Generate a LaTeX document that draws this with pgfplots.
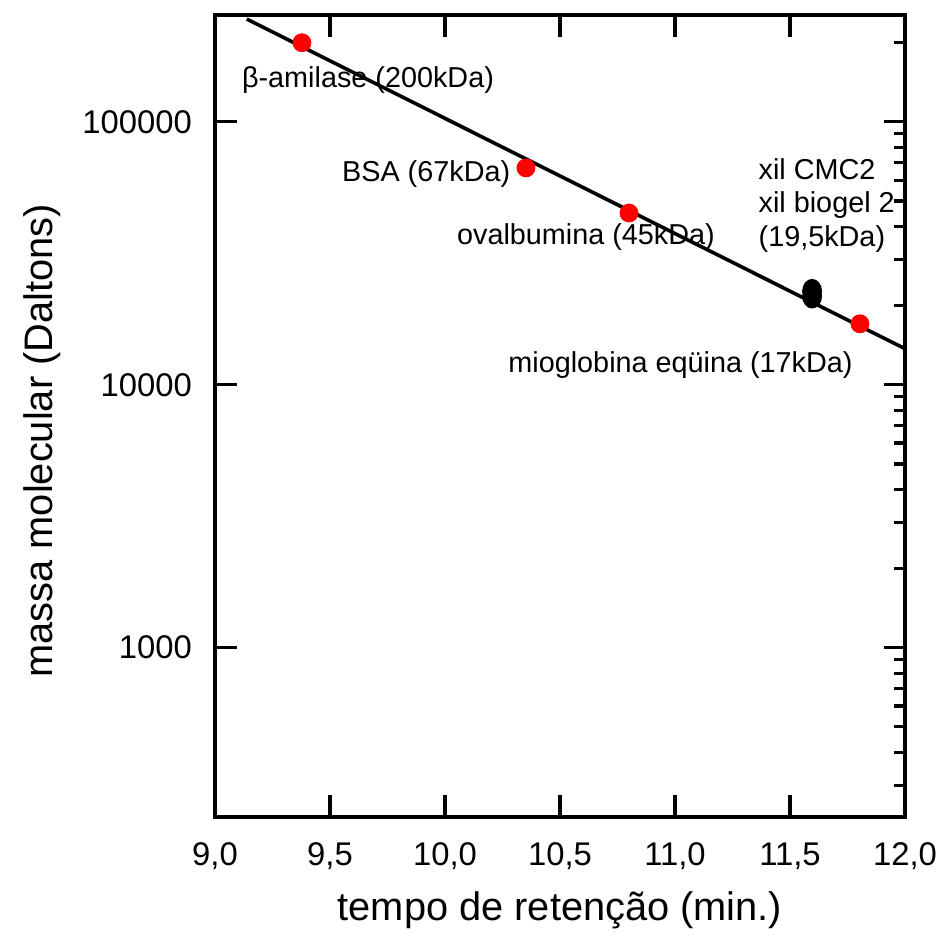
\documentclass[border=0pt]{standalone}
\usepackage{fontspec}
\setmainfont{Liberation Sans}
\usepackage{pgfplots}
\pgfplotsset{compat=1.18}
\begin{document}
\begin{tikzpicture}
\begin{semilogyaxis}[
  name=main,
  scale only axis,
  width=345pt, height=401pt,
  xmin=9, xmax=12,
  ymin=227, ymax=255000,
  axis line style={line width=1.9pt},
  xtick={9,9.5,10,10.5,11,11.5,12},
  xticklabels={{9,0},{9,5},{10,0},{10,5},{11,0},{11,5},{12,0}},
  ytick={1000,10000,100000},
  yticklabels={1000,10000,100000},
  xtick pos=both,
  ytick pos=left,
  tick align=inside,
  major tick length=11pt,
  minor y tick style={draw=none},
  minor x tick style={draw=none},
  tick style={line width=1.6pt, black},
  ticklabel style={font=\fontsize{16.4}{19}\selectfont},
  xticklabel shift=9.3pt,
  yticklabel shift=8pt,
  clip=false,
]
\node[anchor=base west, inner sep=0, font=\fontsize{14.4}{17}\selectfont] at (axis cs:9.116,135500) {β-amilase (200kDa)};
\node[anchor=base west, inner sep=0, font=\fontsize{14.4}{17}\selectfont] at (axis cs:9.551,59280) {BSA (67kDa)};
\node[anchor=base west, inner sep=0, font=\fontsize{14.4}{17}\selectfont] at (axis cs:10.051,34050) {ovalbumina (45kDa)};
\node[anchor=base west, inner sep=0, font=\fontsize{14.4}{17}\selectfont] at (axis cs:10.274,11110) {mioglobina eqüina (17kDa)};
\node[anchor=base west, inner sep=0, font=\fontsize{14.4}{17}\selectfont] at (axis cs:11.362,60170) {xil CMC2};
\node[anchor=base west, inner sep=0, font=\fontsize{14.4}{17}\selectfont] at (axis cs:11.362,45170) {xil biogel 2};
\node[anchor=base west, inner sep=0, font=\fontsize{14.4}{17}\selectfont] at (axis cs:11.362,33540) {(19,5kDa)};
\addplot[only marks, mark=*, mark size=4.5pt, color=red, mark options={draw=red, fill=red}] coordinates {(9.378,200000) (10.352,66800) (10.80,45000) (11.804,17060)};
\addplot[only marks, mark=*, mark size=4.75pt, color=black, mark options={draw=black, fill=black, yscale=1.25}] coordinates {(11.596,21720) (11.596,22690)};
\addplot[line width=1.8pt, black, no marks] coordinates {(9.138,246000) (12,13710)};
\end{semilogyaxis}
\begin{semilogyaxis}[
  scale only axis,
  width=345pt, height=401pt,
  at={(main.south west)}, anchor=south west,
  xmin=9, xmax=12,
  ymin=227, ymax=255000,
  axis line style={draw=none},
  xtick=\empty,
  ytick={1000,10000,100000},
  yticklabels={},
  minor ytick={200,300,400,500,600,700,800,900,2000,3000,4000,5000,6000,7000,8000,9000,20000,30000,40000,50000,60000,70000,80000,90000,200000},
  ytick pos=right,
  tick align=inside,
  major tick length=10.5pt,
  minor tick length=5.5pt,
  tick style={line width=1.6pt, black},
]
\addplot[draw=none, no marks] coordinates {(9,1000) (12,10000)};
\end{semilogyaxis}
\node[anchor=base, font=\fontsize{19.9}{23}\selectfont] at ([yshift=-51.85pt]main.south) {tempo de retenção (min.)};
\node[rotate=90, anchor=base, font=\fontsize{19.9}{23}\selectfont] at ([xshift=-81pt,yshift=-12.4pt]main.west) {massa molecular (Daltons)};
\path ([xshift=-107.5pt,yshift=-63.5pt]main.south west) rectangle ([xshift=20pt,yshift=7.5pt]main.north east);
\end{tikzpicture}
\end{document}
